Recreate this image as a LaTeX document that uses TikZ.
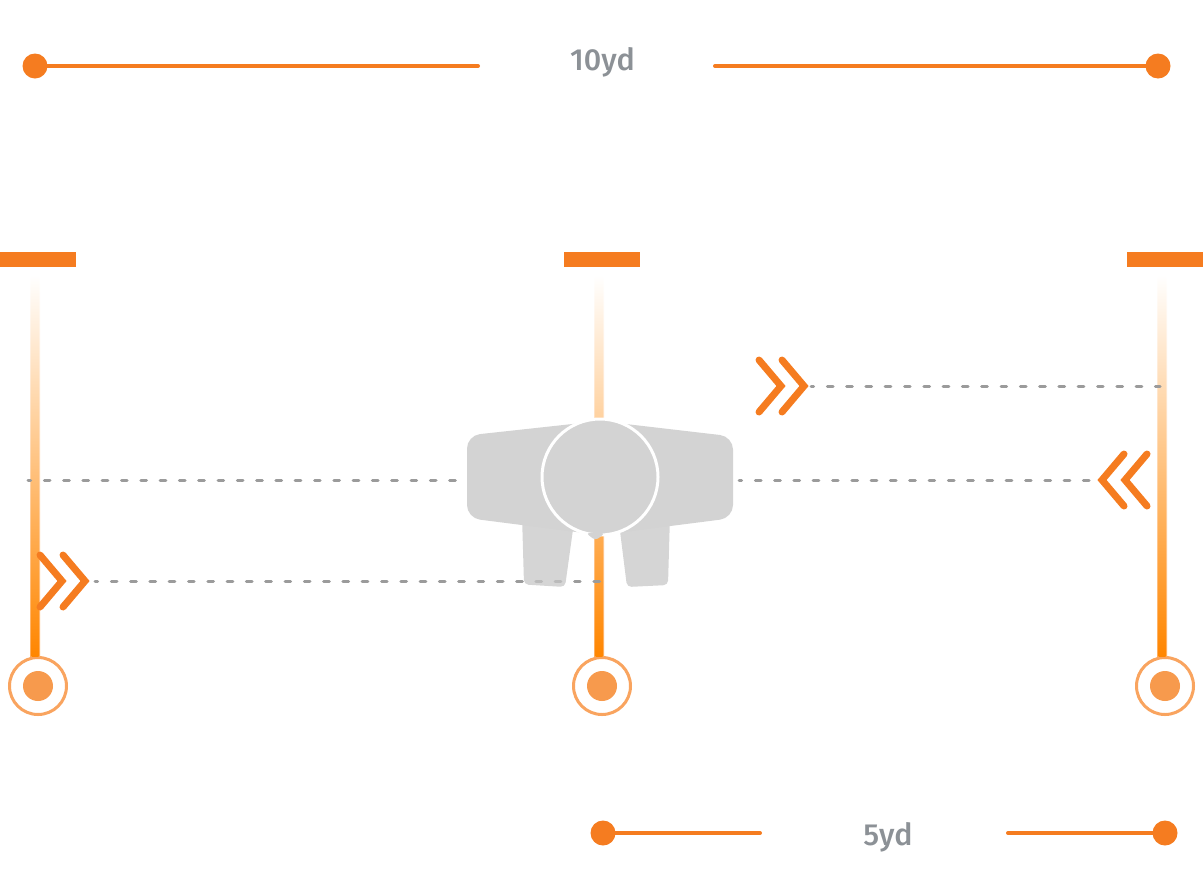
\documentclass[tikz,border=0pt]{standalone}
\usepackage{fontspec}
\setmainfont{Fira Sans}[UprightFont=* Medium]
\usetikzlibrary{positioning, calc}
\definecolor{routeorange}{HTML}{F57C20}
\definecolor{ringorange}{HTML}{F9A45F}
\definecolor{dotorange}{HTML}{F79A4D}
\definecolor{labelgray}{HTML}{8C9196}
\definecolor{dashgray}{HTML}{9B9B9B}
\definecolor{bodygray}{HTML}{D3D3D3}

\begin{document}
\begin{tikzpicture}[
      x=1pt, y=-1pt,
      span/.style={line width=4pt, routeorange, line cap=round},
      spandot/.style={circle, fill=routeorange, inner sep=0pt, minimum size=25pt},
      yd/.style={font=\fontsize{30.5}{30.5}\selectfont, text=labelgray, inner sep=0pt},
      conebar/.style={fill=routeorange, inner sep=0pt, minimum width=76pt, minimum height=15pt},
      ring/.style={circle, draw=ringorange, line width=3pt, fill=white, inner sep=0pt, minimum size=57pt},
      ringdot/.style={circle, fill=dotorange, inner sep=0pt, minimum size=30pt},
      drift/.style={line width=3pt, dashgray, line cap=round, dash pattern=on 5.7pt off 13.6pt, dash phase=3pt},
      chevline/.style={line width=7pt, routeorange, line cap=round, line join=miter},
      legfill/.style={fill=black!22, opacity=.75, rounded corners=4.5pt},
      chevrons/.pic={
        \foreach \o in {0,23} {
          \draw[chevline] (-26-\o,-26) -- (-4-\o,0) -- (-26-\o,26);
        }
      },
    ]
    \useasboundingbox (0,0) rectangle (1204,895);
    % --- top and bottom spans ------------------------------------------
    \node[spandot] (topa) at (35,66) {};
    \node[spandot] (topb) at (1158,66) {};
    \node[yd] (ten) at (602.5,62) {10yd};
    \coordinate (tena) at (478,66);
    \coordinate (tenb) at (715,66);
    \draw[span] (topa) -- (tena);
    \draw[span] (tenb) -- (topb);
    \node[spandot] (bota) at (603,833) {};
    \node[spandot] (botb) at (1165,833) {};
    \node[yd] (five) at (888,837) {5yd};
    \coordinate (fivea) at (760,833);
    \coordinate (fiveb) at (1008,833);
    \draw[span] (bota) -- (fivea);
    \draw[span] (fiveb) -- (botb);
    % --- bars, receivers and the fading stems --------------------------
    \foreach \nm/\xp in {l/38, m/602, r/1165} {
      \node[conebar] (bar\nm) at (\xp,259.5) {};
      \node[ring] (ring\nm) at (\xp,686) {};
      \node[ringdot] (dot\nm) at (ring\nm.center) {};
      \shade[top color=white, middle color=orange!30!white, bottom color=orange!65!white]
        ([xshift=-8pt,yshift=-8pt]bar\nm.south) rectangle ([xshift=2pt]ring\nm.north);
      \shade[top color=white, middle color=orange!52!white, bottom color=orange!95!yellow]
        ([xshift=-6.5pt,yshift=-8pt]bar\nm.south) rectangle ([xshift=0.5pt]ring\nm.north);
    }
    % --- dashed drift lines --------------------------------------------
    \coordinate (drifta) at (811,386);
    \coordinate (driftb) at (1160,386);
    \coordinate (driftc) at (28,480);
    \coordinate (driftd) at (458,480);
    \coordinate (drifte) at (739,480);
    \coordinate (driftf) at (1093,480);
    \coordinate (driftg) at (95,581);
    \coordinate (drifth) at (600,581);
    \draw[drift] (drifta) -- (driftb);
    \draw[drift] (driftc) -- (driftd);
    \draw[drift] (drifte) -- (driftf);
    \draw[drift] (driftg) -- (drifth);
    % --- chevrons ------------------------------------------------------
    \pic (chevr) at (808,386) {chevrons};
    \pic (chevl) at (89,581) {chevrons};
    \pic[xscale=-1] (chevb) at (1098,480) {chevrons};
    % --- player from above ---------------------------------------------
    \fill[legfill] (522,515) -- (524,584.5) -- (565,587) -- (575,515) -- cycle;
    \fill[legfill] (618,515) -- (627,587) -- (668,585) -- (670,515) -- cycle;
    \fill[bodygray, rounded corners=13pt]
      (467,435.5) -- (600,421) -- (733,436.5) -- (733,518) -- (600,535) -- (467,518) -- cycle;
    \node[circle, draw=white, fill=bodygray, line width=3pt, inner sep=0pt, minimum size=116pt]
      (head) at (600,477) {};
    \fill[bodygray, rounded corners=3.5pt] (586,533) -- (595.5,540.5) -- (605,533) -- cycle;
  \end{tikzpicture}
\end{document}
